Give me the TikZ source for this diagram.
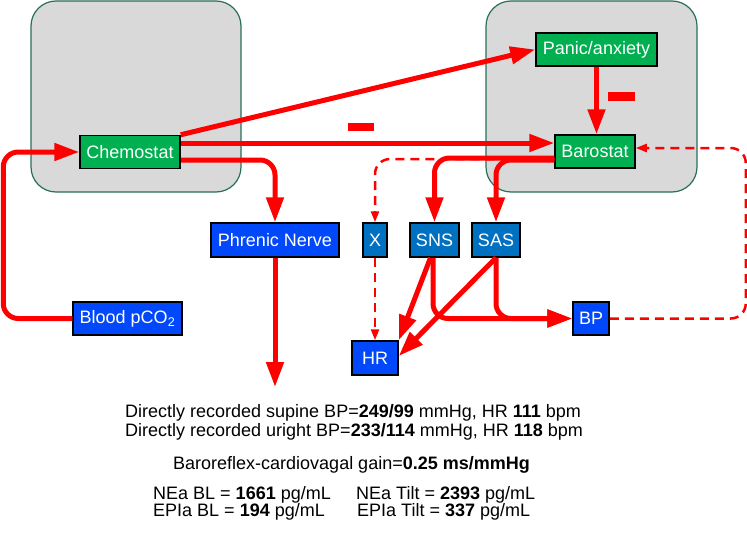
\documentclass[tikz,border=0pt]{standalone}
\usepackage{fontspec}
\setmainfont{Liberation Sans}
\usetikzlibrary{arrows.meta,calc}
\definecolor{myred}{RGB}{255,0,0}
\definecolor{mygreen}{RGB}{0,176,80}
\definecolor{myblue}{RGB}{0,72,250}
\definecolor{steel}{RGB}{0,112,192}
\definecolor{panel}{RGB}{217,217,217}
\definecolor{panelline}{RGB}{40,110,90}
\begin{document}
\begin{tikzpicture}[x=1pt,y=-1pt,
  font=\fontsize{18}{21}\selectfont,
  box/.style={draw=black,line width=1.5pt,text=white,inner sep=0pt,minimum height=33pt},
  gbox/.style={box,fill=mygreen},
  bbox/.style={box,fill=myblue},
  sbox/.style={box,fill=steel},
  panelbox/.style={fill=panel,draw=panelline,line width=1.2pt,rounded corners=25pt},
  link/.style={draw=myred,line width=5pt,-{Triangle[length=25pt,width=17pt]},rounded corners=15pt},
  dlink/.style={draw=myred,line width=2.5pt,dash pattern=on 9pt off 6pt,-{Triangle[length=11pt,width=8pt]},rounded corners=15pt},
  minusbar/.style={fill=myred,inner sep=0pt,minimum width=26pt,minimum height=8pt},
  info/.style={anchor=base west,inner sep=0pt,text=black}
]
\useasboundingbox (0,0) rectangle (747,535);

% panels
\path[panelbox] (31,1) rectangle (241,192);
\path[panelbox] (486,1) rectangle (697,192);

% nodes
\node[gbox,minimum width=100pt] (chem) at (130,152) {Chemostat};
\node[gbox,minimum width=121pt] (panic) at (596.5,49.5) {Panic/anxiety};
\node[gbox,minimum width=80pt] (baro) at (595,151.5) {Barostat};
\node[bbox,minimum width=128pt,minimum height=34pt] (phren) at (275,240) {Phrenic Nerve};
\node[sbox,minimum width=24pt,minimum height=34pt] (xn) at (375,240) {X};
\node[sbox,minimum width=49pt,minimum height=34pt] (sns) at (434.5,240) {SNS};
\node[sbox,minimum width=48pt,minimum height=34pt] (sas) at (496,240) {SAS};
\node[bbox,minimum width=109pt] (blood) at (127.5,318.5) {Blood pCO\textsubscript{2}};
\node[bbox,minimum width=46pt,minimum height=34pt] (hr) at (375,358) {HR};
\node[bbox,minimum width=36pt] (bp) at (591,318.5) {BP};
\coordinate (pout) at (275,387);

% dashed connectors
\draw[dlink] ([yshift=-7.5pt]baro.west) -| (xn.north);
\draw[dlink] (xn.south) -- (hr.north);
\draw[dlink] (bp.east) -- ++(136,0) |- ([yshift=3.5pt]baro.east);

% solid connectors
\draw[link] (blood.west) -- ++(-69,0) |- (chem.west);
\draw[link] (chem.north east) -- (panic.west);
\draw[link] ([yshift=9pt]chem.east) -- ([yshift=9pt]chem.east -| baro.west);
\draw[link] ([yshift=-8pt]chem.east) -| (phren.north);
\draw[link] (phren.south) -- (pout);
\draw[link] (panic.south) -- (panic.south |- baro.north);
\draw[link] ([yshift=-6.5pt]baro.west) -| (sns.north);
\draw[link] ([yshift=-8.5pt]baro.west) -| (sas.north);
\draw[link] ([xshift=-1.5pt]sns.south) |- (bp.west);
\draw[link] (sas.south) |- (bp.west);
\draw[link] ([xshift=-4pt]sns.south) -- (hr.north east);
\draw[link] (sas.south) -- ([yshift=2pt]hr.east);

% minus signs
\node[minusbar] (m1) at (361,127) {};
\node[minusbar,minimum width=27pt,minimum height=9pt] (m2) at (621.5,96.5) {};

% text
\node[info] (t1) at (125,417.5) {Directly recorded supine BP=\textbf{249/99} mmHg, HR \textbf{111} bpm};
\node[info] (t2) at (125,436) {Directly recorded uright BP=\textbf{233/114} mmHg, HR \textbf{118} bpm};
\node[info] (t3) at (173,469.5) {Baroreflex-cardiovagal gain=\textbf{0.25 ms/mmHg}};
\node[info] (t4a) at (153,499.5) {NEa BL = \textbf{1661} pg/mL};
\node[info] (t4b) at (356,499.5) {NEa Tilt = \textbf{2393} pg/mL};
\node[info] (t5a) at (153,516.5) {EPIa BL = \textbf{194} pg/mL};
\node[info] (t5b) at (357,516.5) {EPIa Tilt = \textbf{337} pg/mL};
\end{tikzpicture}
\end{document}
